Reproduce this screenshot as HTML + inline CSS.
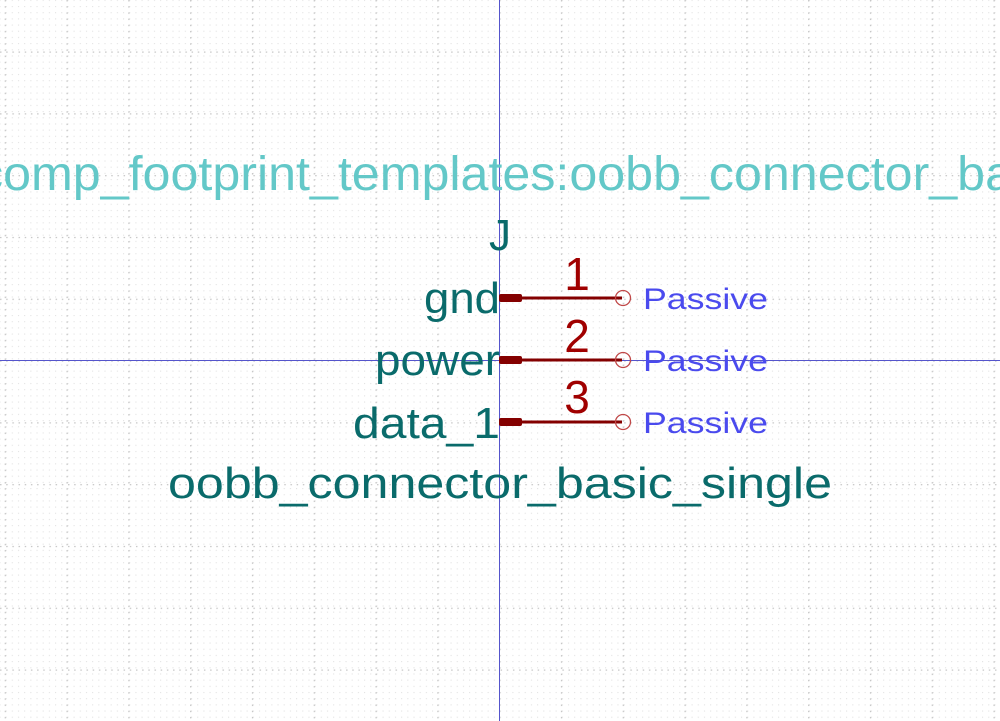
<!DOCTYPE html>
<html><head><meta charset="utf-8"><style>
html,body{margin:0;padding:0;background:#fff;}
svg{display:block;}
text{font-family:"Liberation Sans",sans-serif;}
</style></head><body>
<svg width="1000" height="721" viewBox="0 0 1000 721" xmlns="http://www.w3.org/2000/svg">
<defs>
<pattern id="minor" x="-0.6" y="-0.2" width="6.18" height="6.18" patternUnits="userSpaceOnUse">
<rect x="0" y="0" width="1.1" height="1.1" fill="#e2e2e2"/>
</pattern>
<pattern id="majv" x="66.5" y="0" width="61.8" height="6.18" patternUnits="userSpaceOnUse">
<rect x="0" y="0" width="1.2" height="1.5" fill="#c4c4c4"/>
</pattern>
<pattern id="majh" x="0" y="51.5" width="6.18" height="61.8" patternUnits="userSpaceOnUse">
<rect x="0" y="0" width="1.5" height="1.2" fill="#c4c4c4"/>
</pattern>
</defs>
<rect width="1000" height="721" fill="url(#minor)"/>
<rect width="1000" height="721" fill="url(#majv)"/>
<rect width="1000" height="721" fill="url(#majh)"/>
<line x1="499.5" y1="0" x2="499.5" y2="721" stroke="#5555cc" stroke-width="1"/>
<line x1="0" y1="360.5" x2="1000" y2="360.5" stroke="#5555cc" stroke-width="1"/>

<text x="-22" y="190" font-size="48" fill="#63c8c8" textLength="1035" lengthAdjust="spacingAndGlyphs">comp_footprint_templates:oobb_connector_ba</text>
<text x="500" y="250" font-size="44" fill="#0a6b6b" text-anchor="middle">J</text>

<g fill="#0a6b6b" font-size="44">
<text x="424" y="313" textLength="76" lengthAdjust="spacingAndGlyphs">gnd</text>
<text x="375" y="375" textLength="125" lengthAdjust="spacingAndGlyphs">power</text>
<text x="353" y="438" textLength="147" lengthAdjust="spacingAndGlyphs">data_1</text>
<text x="168" y="498" textLength="664" lengthAdjust="spacingAndGlyphs">oobb_connector_basic_single</text>
</g>

<g>
<rect x="499" y="294" width="23" height="8" rx="2" fill="#840000"/>
<line x1="520" y1="298" x2="622" y2="298" stroke="#840000" stroke-width="3"/>
<circle cx="623" cy="298" r="7.5" fill="none" stroke="#c04848" stroke-width="1.3"/>
<rect x="499" y="356" width="23" height="8" rx="2" fill="#840000"/>
<line x1="520" y1="360" x2="622" y2="360" stroke="#840000" stroke-width="3"/>
<circle cx="623" cy="360" r="7.5" fill="none" stroke="#c04848" stroke-width="1.3"/>
<rect x="499" y="418" width="23" height="8" rx="2" fill="#840000"/>
<line x1="520" y1="422" x2="622" y2="422" stroke="#840000" stroke-width="3"/>
<circle cx="623" cy="422" r="7.5" fill="none" stroke="#c04848" stroke-width="1.3"/>
</g>

<g fill="#a00000" font-size="46" text-anchor="middle">
<text x="577" y="290">1</text>
<text x="577" y="352">2</text>
<text x="577" y="413">3</text>
</g>

<g fill="#4a4aee" font-size="30">
<text x="643" y="309" textLength="125" lengthAdjust="spacingAndGlyphs">Passive</text>
<text x="643" y="371" textLength="125" lengthAdjust="spacingAndGlyphs">Passive</text>
<text x="643" y="433" textLength="125" lengthAdjust="spacingAndGlyphs">Passive</text>
</g>
</svg>
</body></html>
